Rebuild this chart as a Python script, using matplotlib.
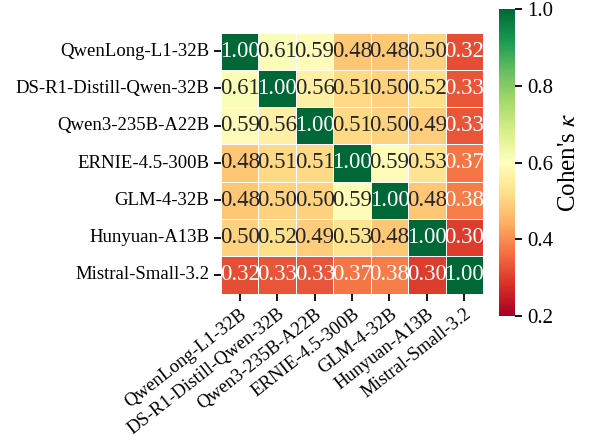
import numpy as np
import matplotlib
matplotlib.use("Agg")
import matplotlib.pyplot as plt
import seaborn as sns

# model names (rows and columns)
models = ["QwenLong-L1-32B", "DS-R1-Distill-Qwen-32B", "Qwen3-235B-A22B",
          "ERNIE-4.5-300B", "GLM-4-32B", "Hunyuan-A13B", "Mistral-Small-3.2"]

# pairwise Cohen's kappa
kappa = np.array([
    [1.00, 0.61, 0.59, 0.48, 0.48, 0.50, 0.32],
    [0.61, 1.00, 0.56, 0.51, 0.50, 0.52, 0.33],
    [0.59, 0.56, 1.00, 0.51, 0.50, 0.49, 0.33],
    [0.48, 0.51, 0.51, 1.00, 0.59, 0.53, 0.37],
    [0.48, 0.50, 0.50, 0.59, 1.00, 0.48, 0.38],
    [0.50, 0.52, 0.49, 0.53, 0.48, 1.00, 0.30],
    [0.32, 0.33, 0.33, 0.37, 0.38, 0.30, 1.00],
])

plt.rcParams['font.family'] = ['Liberation Serif', 'DejaVu Serif']
plt.rcParams['mathtext.fontset'] = 'stix'

fig = plt.figure(figsize=(5.95, 4.43), dpi=100)
ax = fig.add_axes([221/595, 1 - 293.5/443, 262/595, 261/443])
cax = fig.add_axes([498.5/595, 1 - 316/443, 16.5/595, 307/443])

sns.heatmap(kappa, ax=ax, cbar_ax=cax, cmap="RdYlGn", vmin=0.2, vmax=1.0,
            annot=True, fmt=".2f", annot_kws={"size": 16.5},
            linewidths=0.5, linecolor="white",
            xticklabels=models, yticklabels=models,
            cbar_kws={"ticks": [0.2, 0.4, 0.6, 0.8, 1.0]})

ax.set_xticklabels(models, rotation=38, ha="right", rotation_mode="anchor", fontsize=13.5)
ax.set_yticklabels(models, rotation=0, fontsize=13.5)
ax.tick_params(length=5, width=1.3)

cax.tick_params(labelsize=15, length=5, width=1.3)
cax.set_ylabel("Cohen's $\\kappa$", fontsize=18)

fig.savefig("out.png", dpi=100)
